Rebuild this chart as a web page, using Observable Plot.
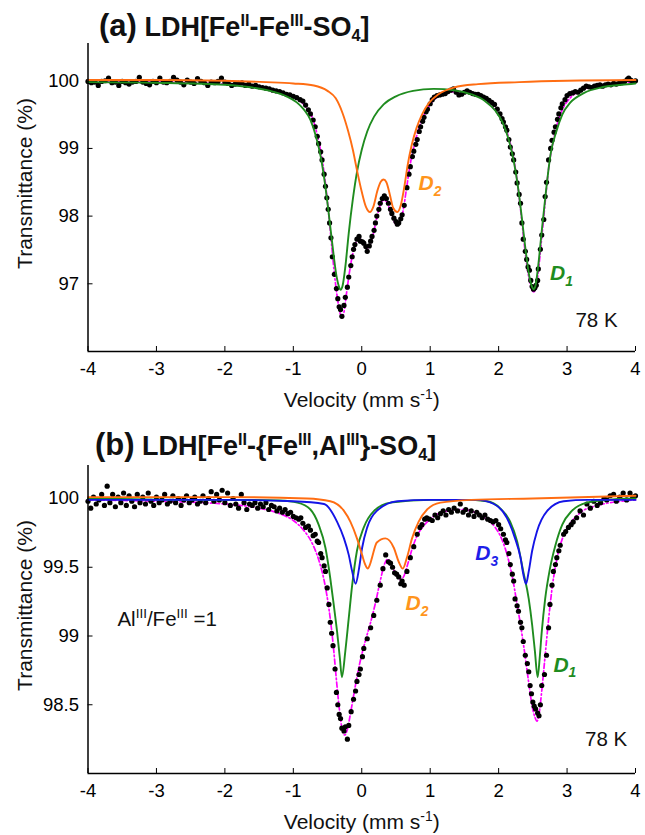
<!DOCTYPE html>
<html><head><meta charset="utf-8">
<script src="https://cdn.jsdelivr.net/npm/d3@7"></script>
<script src="https://cdn.jsdelivr.net/npm/@observablehq/plot@0.6"></script>
<style>
body{margin:0;background:#fff;font-family:"Liberation Sans",Arial,Helvetica,sans-serif;}
#wrap{position:relative;width:645px;height:835px;overflow:hidden;background:#fff;}
.title{position:absolute;z-index:5;font-weight:bold;color:#111;white-space:nowrap;font-size:27px;line-height:1;}
.title .lab{font-size:31px;}
.title sup{font-size:0.6em;vertical-align:0.62em;line-height:0;}
.title sub{font-size:0.6em;vertical-align:-0.28em;line-height:0;}
.panel{position:absolute;left:0;z-index:1;}
.panel svg{display:block;}
</style></head>
<body><div id="wrap">
<div class="panel" id="pa" style="top:38px"></div>
<div class="panel" id="pb" style="top:458px"></div>
<div class="title" style="left:99px;top:10px"><span class="lab">(a)</span> LDH[Fe<sup>II</sup>-Fe<sup>III</sup>-SO<sub>4</sub>]</div>
<div class="title" style="left:95px;top:429px"><span class="lab">(b)</span> LDH[Fe<sup>II</sup>-{Fe<sup>III</sup>,Al<sup>III</sup>}-SO<sub>4</sub>]</div>
</div>
<script>
// ---------- data (velocity mm/s, transmittance %) ----------
const xTicks = [-4,-3,-2,-1,0,1,2,3,4];
const yTicksA = [97,98,99,100];
const yTicksB = [98.5,99,99.5,100];

const dotsA = [[-4.00,99.99],[-3.95,99.97],[-3.90,99.98],[-3.85,99.93],[-3.80,99.99],[-3.75,100.00],[-3.70,100.04],[-3.65,99.97],[-3.60,99.98],[-3.55,99.93],[-3.50,99.99],[-3.45,99.97],[-3.40,99.95],[-3.35,99.98],[-3.30,99.99],[-3.25,100.05],[-3.20,99.98],[-3.15,99.96],[-3.10,99.94],[-3.05,99.99],[-3.00,99.97],[-2.95,100.04],[-2.90,99.98],[-2.85,99.97],[-2.80,99.99],[-2.75,100.05],[-2.70,100.01],[-2.65,99.98],[-2.60,99.94],[-2.55,100.01],[-2.50,99.98],[-2.45,99.96],[-2.40,100.03],[-2.35,99.99],[-2.30,99.97],[-2.25,99.93],[-2.20,99.98],[-2.15,99.97],[-2.10,99.99],[-2.05,100.04],[-2.00,99.98],[-1.95,99.96],[-1.90,99.93],[-1.85,99.95],[-1.80,99.96],[-1.75,99.97],[-1.70,99.93],[-1.65,99.95],[-1.60,99.92],[-1.55,99.93],[-1.50,99.91],[-1.45,99.90],[-1.40,99.89],[-1.35,99.88],[-1.30,99.86],[-1.25,99.85],[-1.20,99.84],[-1.15,99.82],[-1.10,99.80],[-1.05,99.79],[-1.00,99.77],[-0.95,99.75],[-0.90,99.72],[-0.86,99.70],[-0.82,99.64],[-0.78,99.57],[-0.75,99.51],[-0.71,99.42],[-0.68,99.32],[-0.65,99.18],[-0.63,99.07],[-0.60,98.95],[-0.58,98.83],[-0.55,98.62],[-0.53,98.44],[-0.51,98.27],[-0.49,98.10],[-0.47,97.90],[-0.45,97.68],[-0.43,97.40],[-0.40,97.14],[-0.37,96.93],[-0.35,96.78],[-0.33,96.66],[-0.31,96.62],[-0.29,96.52],[-0.26,96.68],[-0.24,96.80],[-0.21,96.95],[-0.19,97.10],[-0.16,97.27],[-0.14,97.40],[-0.12,97.51],[-0.10,97.58],[-0.07,97.66],[-0.04,97.70],[-0.02,97.63],[0.01,97.62],[0.03,97.60],[0.06,97.55],[0.08,97.48],[0.11,97.56],[0.13,97.63],[0.15,97.70],[0.18,97.79],[0.20,97.90],[0.22,98.00],[0.25,98.10],[0.27,98.19],[0.30,98.26],[0.33,98.30],[0.36,98.26],[0.39,98.19],[0.42,98.10],[0.44,98.04],[0.47,97.97],[0.50,97.92],[0.52,97.88],[0.54,97.90],[0.57,97.96],[0.59,98.02],[0.62,98.16],[0.66,98.42],[0.69,98.62],[0.71,98.73],[0.74,98.88],[0.76,98.96],[0.79,99.06],[0.81,99.13],[0.84,99.25],[0.86,99.32],[0.89,99.40],[0.91,99.46],[0.94,99.54],[0.96,99.58],[1.00,99.66],[1.03,99.72],[1.06,99.76],[1.10,99.78],[1.14,99.79],[1.18,99.80],[1.22,99.81],[1.26,99.84],[1.30,99.86],[1.34,99.88],[1.38,99.83],[1.42,99.79],[1.46,99.80],[1.50,99.83],[1.54,99.85],[1.58,99.83],[1.62,99.81],[1.66,99.80],[1.70,99.80],[1.74,99.78],[1.78,99.76],[1.82,99.74],[1.86,99.71],[1.90,99.68],[1.94,99.65],[1.98,99.58],[2.02,99.51],[2.05,99.44],[2.07,99.39],[2.10,99.32],[2.12,99.27],[2.15,99.13],[2.17,99.02],[2.20,98.92],[2.22,98.83],[2.25,98.65],[2.27,98.49],[2.30,98.32],[2.32,98.19],[2.34,97.90],[2.36,97.66],[2.39,97.48],[2.41,97.36],[2.43,97.25],[2.45,97.20],[2.47,97.05],[2.49,96.96],[2.51,96.92],[2.53,96.94],[2.55,96.98],[2.57,97.05],[2.58,97.22],[2.61,97.51],[2.63,97.72],[2.66,97.95],[2.68,98.29],[2.70,98.50],[2.73,98.83],[2.76,99.00],[2.78,99.12],[2.81,99.24],[2.83,99.32],[2.86,99.43],[2.88,99.51],[2.91,99.60],[2.93,99.66],[2.97,99.72],[3.00,99.78],[3.04,99.81],[3.08,99.82],[3.12,99.84],[3.16,99.83],[3.20,99.86],[3.24,99.89],[3.28,99.92],[3.32,99.91],[3.36,99.90],[3.40,99.92],[3.44,99.93],[3.48,99.94],[3.52,99.92],[3.56,99.94],[3.60,99.95],[3.64,99.94],[3.68,99.96],[3.72,99.95],[3.76,99.96],[3.80,99.97],[3.84,99.99],[3.88,100.02],[3.90,100.04],[3.93,100.01],[3.96,99.99],[4.00,100.00]];

const fitA = [[-4.0,99.99],[-3.0,99.98],[-2.5,99.97],[-2.0,99.95],[-1.7,99.92],[-1.5,99.90],[-1.3,99.86],[-1.15,99.82],[-1.0,99.76],[-0.9,99.70],[-0.8,99.59],[-0.72,99.45],[-0.65,99.20],[-0.6,98.96],[-0.55,98.64],[-0.5,98.20],[-0.45,97.68],[-0.4,97.15],[-0.36,96.82],[-0.32,96.58],[-0.29,96.50],[-0.26,96.58],[-0.22,96.88],[-0.18,97.17],[-0.13,97.45],[-0.08,97.62],[-0.04,97.67],[0.0,97.64],[0.04,97.58],[0.08,97.53],[0.12,97.57],[0.17,97.74],[0.22,97.98],[0.27,98.16],[0.32,98.24],[0.37,98.20],[0.42,98.06],[0.47,97.93],[0.51,97.87],[0.55,97.90],[0.60,98.06],[0.65,98.38],[0.70,98.72],[0.76,99.02],[0.83,99.28],[0.90,99.47],[1.0,99.65],[1.1,99.76],[1.25,99.82],[1.4,99.84],[1.55,99.83],[1.7,99.78],[1.82,99.70],[1.92,99.60],[2.0,99.50],[2.08,99.35],[2.15,99.15],[2.22,98.85],[2.28,98.45],[2.34,97.92],[2.39,97.45],[2.44,97.10],[2.48,96.93],[2.51,96.88],[2.54,96.93],[2.58,97.18],[2.62,97.58],[2.67,98.10],[2.73,98.70],[2.80,99.12],[2.88,99.44],[2.96,99.63],[3.05,99.75],[3.2,99.86],[3.4,99.92],[3.7,99.96],[4.0,99.98]];

const d1A = [[-4.0,99.98],[-3.0,99.97],[-2.0,99.94],[-1.6,99.90],[-1.3,99.84],[-1.1,99.77],[-0.95,99.68],[-0.85,99.58],[-0.75,99.42],[-0.67,99.18],[-0.6,98.88],[-0.54,98.50],[-0.48,98.02],[-0.42,97.50],[-0.37,97.12],[-0.33,96.95],[-0.31,96.91],[-0.28,96.97],[-0.24,97.25],[-0.19,97.75],[-0.13,98.25],[-0.07,98.65],[0.0,98.98],[0.08,99.25],[0.18,99.47],[0.32,99.65],[0.5,99.77],[0.75,99.85],[1.05,99.88],[1.35,99.86],[1.6,99.80],[1.8,99.70],[1.95,99.56],[2.06,99.38],[2.15,99.12],[2.22,98.82],[2.29,98.38],[2.35,97.88],[2.40,97.45],[2.45,97.10],[2.49,96.95],[2.51,96.92],[2.54,96.98],[2.58,97.28],[2.63,97.78],[2.69,98.35],[2.76,98.92],[2.84,99.24],[2.93,99.50],[3.05,99.68],[3.25,99.82],[3.5,99.90],[3.8,99.94],[4.0,99.96]];

const d2A = [[-4.0,100.01],[-3.0,100.01],[-2.0,100.0],[-1.4,99.98],[-1.0,99.96],[-0.7,99.93],[-0.5,99.85],[-0.38,99.74],[-0.28,99.52],[-0.2,99.26],[-0.13,98.98],[-0.07,98.68],[0.0,98.36],[0.06,98.14],[0.12,98.06],[0.17,98.14],[0.23,98.38],[0.28,98.51],[0.32,98.54],[0.36,98.50],[0.41,98.32],[0.46,98.12],[0.52,98.06],[0.57,98.16],[0.62,98.42],[0.67,98.75],[0.73,99.05],[0.8,99.30],[0.88,99.50],[0.98,99.67],[1.12,99.80],[1.35,99.90],[1.7,99.95],[2.3,99.98],[3.0,100.0],[4.0,100.01]];

const dotsB = [[-4.00,99.98],[-3.96,99.93],[-3.92,100.01],[-3.88,99.96],[-3.84,99.99],[-3.80,100.03],[-3.76,99.95],[-3.72,100.09],[-3.68,99.97],[-3.64,100.03],[-3.60,99.94],[-3.56,100.01],[-3.52,99.97],[-3.48,100.04],[-3.44,99.95],[-3.40,100.02],[-3.36,99.98],[-3.32,99.94],[-3.28,100.03],[-3.24,99.97],[-3.20,100.01],[-3.16,99.96],[-3.12,100.04],[-3.08,99.98],[-3.04,99.95],[-3.00,100.01],[-2.96,99.97],[-2.92,99.99],[-2.88,100.03],[-2.84,99.96],[-2.80,99.98],[-2.76,100.02],[-2.72,99.97],[-2.68,100.00],[-2.64,99.95],[-2.60,99.99],[-2.56,100.02],[-2.52,99.97],[-2.48,99.99],[-2.44,100.01],[-2.40,99.96],[-2.36,99.98],[-2.32,100.02],[-2.28,99.97],[-2.24,100.00],[-2.20,100.05],[-2.16,99.98],[-2.12,100.03],[-2.08,99.99],[-2.04,100.06],[-2.00,99.97],[-1.96,100.04],[-1.92,99.95],[-1.88,100.00],[-1.84,99.96],[-1.80,99.93],[-1.76,100.03],[-1.72,99.97],[-1.68,99.92],[-1.64,99.96],[-1.60,99.95],[-1.56,99.97],[-1.52,99.93],[-1.48,99.96],[-1.44,99.94],[-1.40,99.97],[-1.36,99.92],[-1.32,99.95],[-1.28,99.94],[-1.24,99.91],[-1.20,99.93],[-1.16,99.90],[-1.12,99.92],[-1.08,99.89],[-1.04,99.90],[-1.00,99.87],[-0.96,99.86],[-0.92,99.85],[-0.89,99.86],[-0.86,99.82],[-0.82,99.79],[-0.78,99.80],[-0.75,99.77],[-0.71,99.73],[-0.68,99.74],[-0.65,99.69],[-0.63,99.68],[-0.60,99.60],[-0.58,99.57],[-0.55,99.51],[-0.53,99.47],[-0.505,99.35],[-0.48,99.23],[-0.46,99.10],[-0.44,99.02],[-0.42,98.93],[-0.39,98.76],[-0.37,98.59],[-0.35,98.50],[-0.33,98.43],[-0.31,98.40],[-0.29,98.33],[-0.26,98.31],[-0.24,98.34],[-0.21,98.25],[-0.19,98.35],[-0.155,98.45],[-0.12,98.54],[-0.09,98.60],[-0.07,98.67],[-0.04,98.72],[-0.02,98.76],[0.01,98.85],[0.03,98.91],[0.08,98.98],[0.13,99.06],[0.175,99.15],[0.22,99.26],[0.27,99.37],[0.31,99.49],[0.35,99.59],[0.39,99.54],[0.42,99.53],[0.45,99.50],[0.48,99.46],[0.51,99.45],[0.54,99.43],[0.57,99.38],[0.59,99.40],[0.62,99.37],[0.66,99.47],[0.71,99.57],[0.76,99.65],[0.81,99.74],[0.85,99.79],[0.88,99.81],[0.92,99.85],[0.95,99.86],[0.99,99.85],[1.03,99.84],[1.07,99.88],[1.11,99.86],[1.15,99.89],[1.19,99.91],[1.23,99.88],[1.27,99.92],[1.31,99.90],[1.35,99.93],[1.40,99.91],[1.44,99.96],[1.48,99.90],[1.52,99.92],[1.56,99.88],[1.60,99.91],[1.64,99.87],[1.68,99.90],[1.72,99.88],[1.76,99.86],[1.80,99.88],[1.84,99.85],[1.88,99.84],[1.92,99.83],[1.96,99.84],[2.00,99.81],[2.03,99.78],[2.07,99.74],[2.10,99.70],[2.12,99.68],[2.15,99.60],[2.17,99.52],[2.20,99.45],[2.22,99.40],[2.24,99.27],[2.27,99.22],[2.29,99.18],[2.32,99.10],[2.34,99.06],[2.36,98.96],[2.39,98.86],[2.42,98.80],[2.44,98.74],[2.46,98.64],[2.48,98.58],[2.50,98.52],[2.52,98.49],[2.54,98.47],[2.57,98.44],[2.59,98.42],[2.61,98.50],[2.63,98.64],[2.67,98.72],[2.70,98.86],[2.73,99.06],[2.75,99.23],[2.78,99.37],[2.80,99.47],[2.83,99.52],[2.85,99.57],[2.88,99.62],[2.90,99.66],[2.95,99.74],[2.98,99.76],[3.02,99.79],[3.06,99.81],[3.09,99.83],[3.14,99.86],[3.19,99.91],[3.24,99.88],[3.29,99.96],[3.34,99.93],[3.39,99.98],[3.44,99.95],[3.49,99.97],[3.54,100.00],[3.58,99.99],[3.63,100.02],[3.68,100.03],[3.72,99.98],[3.77,100.01],[3.82,100.04],[3.87,99.99],[3.92,100.04],[3.96,100.01],[4.00,100.02]];

const fitB = [[-4.0,99.99],[-3.0,99.98],[-2.0,99.96],[-1.5,99.93],[-1.2,99.89],[-1.0,99.84],[-0.85,99.77],[-0.72,99.67],[-0.62,99.54],[-0.54,99.38],[-0.48,99.20],[-0.42,98.95],[-0.37,98.68],[-0.33,98.48],[-0.29,98.33],[-0.25,98.28],[-0.21,98.32],[-0.16,98.45],[-0.1,98.62],[-0.03,98.80],[0.05,98.96],[0.13,99.10],[0.2,99.24],[0.27,99.40],[0.33,99.52],[0.38,99.56],[0.44,99.51],[0.5,99.45],[0.56,99.41],[0.61,99.43],[0.67,99.52],[0.74,99.64],[0.82,99.74],[0.92,99.81],[1.05,99.87],[1.25,99.91],[1.45,99.92],[1.65,99.90],[1.82,99.85],[1.95,99.79],[2.05,99.70],[2.13,99.58],[2.2,99.43],[2.26,99.26],[2.32,99.08],[2.38,98.88],[2.44,98.66],[2.49,98.49],[2.53,98.41],[2.56,98.38],[2.59,98.43],[2.63,98.60],[2.68,98.86],[2.73,99.12],[2.79,99.38],[2.86,99.58],[2.94,99.72],[3.05,99.82],[3.2,99.90],[3.45,99.95],[3.8,99.98],[4.0,99.99]];

const d1B = [[-4.0,100.0],[-2.5,99.99],[-1.6,99.99],[-1.2,99.985],[-0.94,99.97],[-0.75,99.92],[-0.63,99.81],[-0.53,99.64],[-0.46,99.42],[-0.41,99.23],[-0.36,99.03],[-0.32,98.84],[-0.29,98.70],[-0.24,98.89],[-0.19,99.13],[-0.14,99.37],[-0.07,99.62],[0.03,99.79],[0.18,99.91],[0.42,99.97],[1.0,99.99],[1.5,99.99],[1.83,99.98],[2.02,99.93],[2.17,99.83],[2.27,99.69],[2.36,99.47],[2.44,99.27],[2.49,99.08],[2.53,98.89],[2.57,98.70],[2.60,98.84],[2.63,99.03],[2.68,99.27],[2.75,99.49],[2.83,99.66],[2.93,99.81],[3.07,99.91],[3.29,99.97],[3.58,99.99],[4.0,100.0]];

const d2B = [[-4.0,100.01],[-2.0,100.01],[-0.8,100.0],[-0.46,99.98],[-0.26,99.91],[-0.165,99.83],[-0.07,99.71],[0.005,99.59],[0.05,99.52],[0.088,99.49],[0.12,99.52],[0.15,99.57],[0.22,99.68],[0.346,99.71],[0.47,99.64],[0.54,99.54],[0.60,99.49],[0.66,99.57],[0.735,99.71],[0.83,99.83],[0.955,99.92],[1.15,99.97],[1.6,99.99],[2.5,100.0],[4.0,100.02]];

const d3B = [[-4.0,99.99],[-2.0,99.99],[-1.0,99.98],[-0.55,99.96],[-0.36,99.83],[-0.26,99.71],[-0.19,99.59],[-0.14,99.47],[-0.09,99.38],[-0.04,99.49],[0.005,99.64],[0.08,99.79],[0.22,99.91],[0.52,99.98],[1.0,99.99],[1.68,99.99],[1.93,99.96],[2.12,99.86],[2.24,99.71],[2.32,99.57],[2.36,99.45],[2.40,99.38],[2.44,99.47],[2.49,99.62],[2.56,99.76],[2.71,99.91],[2.95,99.98],[3.3,99.99],[4.0,99.99]];

// annotations (text, velocity, transmittance)
const compLabelsA = [["D_{2}",0.83,98.49,"D2"],["D_{1}",2.75,97.15,"D1"]];
const notesA = [["78 K",3.43,96.46,"middle"]];
const compLabelsB = [["D_{3}",1.66,99.60,"D3"],["D_{2}",0.64,99.24,"D2"],["D_{1}",2.80,98.79,"D1"]];
const notesB = [["78 K",3.57,98.25,"middle"],["Al^{III}/Fe^{III} =1",-3.57,99.12,"start"]];

// ---------- styling ----------
const COL = {D1:"#1f8c1f", D2:"#ff6d12", D3:"#1414e6", fit:"#ff00ff"};
const LABCOL = {D1:"#1f8c1f", D2:"#ff951c", D3:"#1e1ee8"};
const FONT = '"Liberation Sans", Arial, Helvetica, sans-serif';
const rows = a => a.map(([v,t]) => ({v,t}));

function richText(svg){
  d3.select(svg).selectAll("text").each(function(){
    const s = this.textContent;
    if (!/[\^_]\{/.test(s)) return;
    const fs = parseFloat(getComputedStyle(this).fontSize) || 16;
    const re = /(\^|_)\{([^}]*)\}/g;
    const parts = []; let last = 0, m;
    while ((m = re.exec(s))) {
      if (m.index > last) parts.push({t:s.slice(last,m.index),k:0});
      parts.push({t:m[2],k:m[1]==="^"?1:-1});
      last = m.index + m[0].length;
    }
    if (last < s.length) parts.push({t:s.slice(last),k:0});
    this.textContent = "";
    let shift = 0;
    const self = d3.select(this);
    for (const p of parts) {
      const target = p.k===1 ? -0.40*fs : p.k===-1 ? 0.28*fs : 0;
      const ts = self.append("tspan").text(p.t);
      if (target - shift !== 0) ts.attr("dy", target - shift);
      if (p.k) ts.attr("font-size", 0.66*fs);
      shift = target;
    }
  });
}

function panel({el, dots, fit, comps, yDomain, yTicks, height, mt, mb, labels, notes}){
  const [y0,y1] = yDomain;
  const ml = 87.5, mr = 10, W = 645;
  const fh = height - mt - mb, fw = W - ml - mr;
  const tkY = 5*(y1-y0)/fh, tkX = 5*8/fw;
  const marks = [
    Plot.ruleY(yTicks, {y:d=>d, x1:-4, x2:-4+tkX, stroke:"#000", strokeWidth:1}),
    Plot.ruleX(xTicks, {x:d=>d, y1:y0, y2:y0+tkY, stroke:"#000", strokeWidth:1}),
    Plot.line(rows(fit), {x:"v", y:"t", stroke:COL.fit, strokeWidth:1.7, strokeDasharray:"5,2.5,1.5,2.5", curve:"monotone-x"}),
    Plot.dot(rows(dots), {x:"v", y:"t", r:2.6, fill:"#000", stroke:null}),
    ...comps.map(([key,data]) => Plot.line(rows(data), {x:"v", y:"t", stroke:COL[key], strokeWidth:1.9, curve:"monotone-x"})),
    Plot.ruleX([-4], {stroke:"#000", strokeWidth:1.5}),
    Plot.ruleY([y0], {stroke:"#000", strokeWidth:1.5}),
    Plot.axisX(xTicks, {tickSize:0, tickPadding:10, fontSize:18.5, tickFormat:d=>String(d), label:null}),
    Plot.axisY(yTicks, {tickSize:0, tickPadding:9, fontSize:18.5, tickFormat:d=>String(d), label:null}),
    Plot.text(["Velocity (mm s^{-1})"], {text:d=>d, frameAnchor:"bottom", lineAnchor:"middle", textAnchor:"middle", dy:49, fontSize:21, fill:"#111"}),
    Plot.text(["Transmittance (%)"], {text:d=>d, frameAnchor:"left", lineAnchor:"middle", textAnchor:"middle", rotate:-90, dx:-63, dy:-14, fontSize:21, fill:"#111"}),
    Plot.text(labels, {x:d=>d[1], y:d=>d[2], text:d=>d[0], fill:d=>LABCOL[d[3]], fontWeight:"bold", fontStyle:"italic", textAnchor:"start", fontSize:21}),
    ...notes.map(n => Plot.text([n], {x:d=>d[1], y:d=>d[2], text:d=>d[0], textAnchor:n[3], fontSize:20.5, fill:"#111"}))
  ];
  const svg = Plot.plot({
    width: W, height, marginLeft: ml, marginRight: mr, marginTop: mt, marginBottom: mb,
    style: {fontFamily: FONT, background: "transparent", color: "#000", overflow: "visible"},
    x: {domain: [-4, 4]},
    y: {domain: [y0, y1]},
    marks
  });
  document.getElementById(el).appendChild(svg);
  richText(svg);
}

panel({el:"pa", dots:dotsA, fit:fitA, comps:[["D1",d1A],["D2",d2A]], yDomain:[96.0,100.55], yTicks:yTicksA,
  height:380, mt:5, mb:67, labels:compLabelsA, notes:notesA});
panel({el:"pb", dots:dotsB, fit:fitB, comps:[["D1",d1B],["D3",d3B],["D2",d2B]], yDomain:[98.0,100.24], yTicks:yTicksB,
  height:377, mt:7, mb:62, labels:compLabelsB, notes:notesB});
</script>
</body></html>
